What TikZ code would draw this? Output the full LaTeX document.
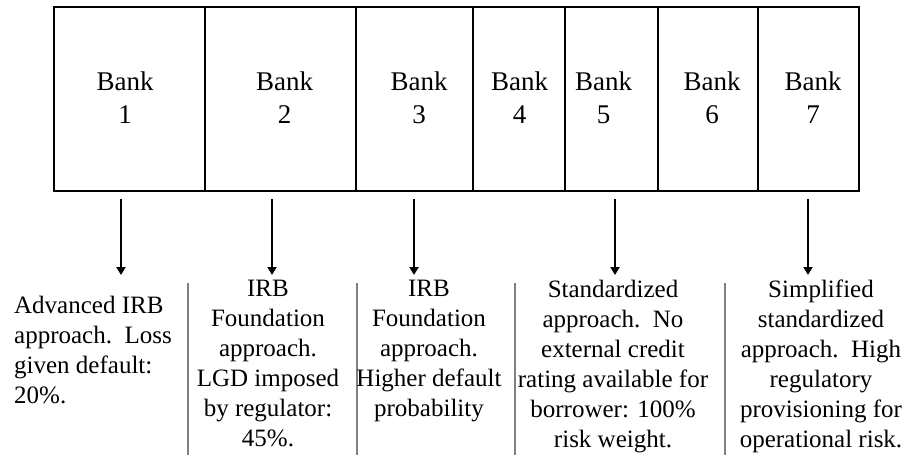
\documentclass[tikz,border=0pt]{standalone}
\usepackage{fontspec}
\setmainfont{Liberation Serif}
\usetikzlibrary{arrows.meta}
\begin{document}
\begin{tikzpicture}[x=1pt,y=-1pt,
  frame/.style={line width=1.2pt,draw=black},
  banklbl/.style={align=center,inner sep=0pt,anchor=north,font=\fontsize{27}{32.7}\selectfont},
  desc/.style={align=center,inner sep=0pt,anchor=north,font=\fontsize{25}{30}\selectfont},
  descl/.style={align=left,inner sep=0pt,anchor=north west,font=\fontsize{25}{30}\selectfont},
  sep/.style={line width=1.2pt,draw=black!50},
  arr/.style={line width=2pt,-{Triangle[width=9pt,length=8pt]}}]
\useasboundingbox (0,0) rectangle (919,455);
% box cells
\coordinate (c0t) at (54,7);   \coordinate (c0b) at (54,191);
\coordinate (c1t) at (205,7);  \coordinate (c1b) at (205,191);
\coordinate (c2t) at (356,7);  \coordinate (c2b) at (356,191);
\coordinate (c3t) at (473,7);  \coordinate (c3b) at (473,191);
\coordinate (c4t) at (565,7);  \coordinate (c4b) at (565,191);
\coordinate (c5t) at (658,7);  \coordinate (c5b) at (658,191);
\coordinate (c6t) at (758,7);  \coordinate (c6b) at (758,191);
\coordinate (c7t) at (859,7);  \coordinate (c7b) at (859,191);
\draw[frame] (c0t) rectangle (c7b);
\foreach \i in {1,...,6} \draw[frame] (c\i t) -- (c\i b);
% bank labels
\node[banklbl] (b1) at (125,71.6) {Bank\\1};
\node[banklbl] (b2) at (284.5,71.6) {Bank\\2};
\node[banklbl] (b3) at (419,71.6) {Bank\\3};
\node[banklbl] (b4) at (519.5,71.6) {Bank\\4};
\node[banklbl] (b5) at (603.5,71.6) {Bank\\5};
\node[banklbl] (b6) at (712,71.6) {Bank\\6};
\node[banklbl] (b7) at (813,71.6) {Bank\\7};
% arrows
\coordinate (a1s) at (121,199); \coordinate (a1e) at (121,275);
\coordinate (a2s) at (272,199); \coordinate (a2e) at (272,275);
\coordinate (a3s) at (414,199); \coordinate (a3e) at (414,275);
\coordinate (a4s) at (615,199); \coordinate (a4e) at (615,275);
\coordinate (a5s) at (808,199); \coordinate (a5e) at (808,275);
\foreach \i in {1,...,5} \draw[arr] (a\i s) -- (a\i e);
% separators
\coordinate (s1t) at (188,283); \coordinate (s1b) at (188,455);
\coordinate (s2t) at (357,283); \coordinate (s2b) at (357,455);
\coordinate (s3t) at (515,283); \coordinate (s3b) at (515,455);
\coordinate (s4t) at (725,283); \coordinate (s4b) at (725,455);
\foreach \i in {1,...,4} \draw[sep] (s\i t) -- (s\i b);
% descriptions
\node[descl] (d1) at (14,296.2) {Advanced IRB\\approach.\ \ Loss\\given default:\\20\%.};
\node[desc] (d2) at (268,280.2) {IRB\\Foundation\\approach.\\LGD imposed\\by regulator:\\45\%.};
\node[desc] (d3) at (429,280.2) {IRB\\Foundation\\approach.\\Higher default\\probability};
\node[desc] (d4) at (613,279.6) {Standardized\\approach.\ \ No\\external credit\\rating available for\\borrower: 100\%\\risk weight.};
\node[desc] (d5) at (821,279.6) {Simplified\\standardized\\approach.\ \ High\\regulatory\\provisioning for\\operational risk.};
\end{tikzpicture}
\end{document}
